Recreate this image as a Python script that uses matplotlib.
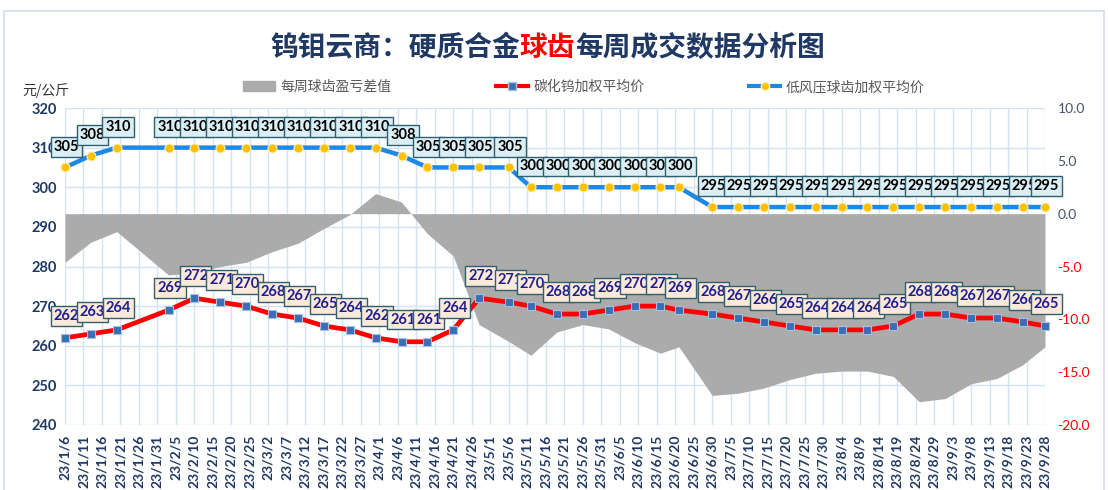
import matplotlib
matplotlib.use("Agg")
import matplotlib.pyplot as plt
import matplotlib.patches as mpatches
from matplotlib.lines import Line2D
import pandas as pd

plt.rcParams['font.family'] = ['Noto Sans CJK SC', 'DejaVu Sans']

# weekly data points
dates = ["2023-01-06", "2023-01-13", "2023-01-20", "2023-02-03", "2023-02-10", "2023-02-17",
         "2023-02-24", "2023-03-03", "2023-03-10", "2023-03-17", "2023-03-24", "2023-03-31",
         "2023-04-07", "2023-04-14", "2023-04-21", "2023-04-28", "2023-05-06", "2023-05-12",
         "2023-05-19", "2023-05-26", "2023-06-02", "2023-06-09", "2023-06-16", "2023-06-21",
         "2023-06-30", "2023-07-07", "2023-07-14", "2023-07-21", "2023-07-28", "2023-08-04",
         "2023-08-11", "2023-08-18", "2023-08-25", "2023-09-01", "2023-09-08", "2023-09-15",
         "2023-09-22", "2023-09-28"]

# 碳化钨加权平均价
wc_price = [262, 263, 264, 269, 272, 271, 270, 268, 267, 265, 264, 262,
            261, 261, 264, 272, 271, 270, 268, 268, 269, 270, 270, 269,
            268, 267, 266, 265, 264, 264, 264, 265, 268, 268, 267, 267,
            266, 265]

# 低风压球齿加权平均价
ball_price = [305, 308, 310, 310, 310, 310, 310, 310, 310, 310, 310, 310,
              308, 305, 305, 305, 305, 300, 300, 300, 300, 300, 300, 300,
              295, 295, 295, 295, 295, 295, 295, 295, 295, 295, 295, 295,
              295, 295]

# 每周球齿盈亏差值 (right axis)
diff = [-4.6, -2.7, -1.7, -5.8, -5.6, -5.0, -4.6, -3.6, -2.8, -1.4, -0.1, 1.9,
        1.1, -1.9, -4.0, -10.5, -12.1, -13.4, -11.2, -10.5, -10.9, -12.2, -13.2, -12.6,
        -17.2, -17.0, -16.5, -15.7, -15.1, -14.9, -14.9, -15.4, -17.8, -17.5, -16.1, -15.6,
        -14.3, -12.6]

left_ticks = list(range(240, 321, 10))
right_ticks = [-20, -15, -10, -5, 0, 5, 10]

NAVY = "#1F3864"
x = pd.to_datetime(dates)
xticks = pd.date_range("2023-01-06", "2023-09-28", freq="5D")

W, H = 1108, 490
fig = plt.figure(figsize=(W / 100, H / 100), dpi=100)
fig.patch.set_facecolor("white")

# outer frame
fig.add_artist(mpatches.Rectangle((4 / W, -0.02), 1 - 8 / W, 1.02 - 11 / H, transform=fig.transFigure,
                                  fc="none", ec="#D6DDEA", lw=1.2))

ax = fig.add_axes([65 / W, 1 - 425 / H, (1045 - 65) / W, (425 - 108) / H])
ax.set_xlim(x[0], pd.Timestamp("2023-09-28"))
ax.set_ylim(240, 320)
ax.set_yticks(left_ticks)
ax.set_xticks(xticks)
ax.set_xticklabels([f"{d.year % 100}/{d.month}/{d.day}" for d in xticks])
ax.grid(True, color="#D5E2F2", lw=1)
ax.tick_params(length=0)
ax.tick_params(axis="y", pad=6, labelsize=10.5, labelcolor=NAVY, labelfontfamily="Lato")
ax.tick_params(axis="x", pad=7, labelsize=10, labelcolor=NAVY, labelrotation=90, labelfontfamily="Lato")
for lbl in ax.get_yticklabels() + ax.get_xticklabels():
    lbl.set_fontweight("bold")
for s in ax.spines.values():
    s.set_visible(False)

# gray area on the right axis
ax2 = ax.twinx()
ax2.fill_between(x, 0, diff, color="#ABABAB", lw=0)
ax2.set_ylim(-20, 10)
ax2.set_yticks(right_ticks)
ax2.set_yticklabels([f"{v:.1f}" for v in right_ticks])
ax2.tick_params(length=0, pad=9, labelsize=10, labelfontfamily="Lato")
for lbl, v in zip(ax2.get_yticklabels(), right_ticks):
    lbl.set_color("#FF0000" if v < 0 else "#44546A")
for s in ax2.spines.values():
    s.set_visible(False)

# price lines on top
ax3 = ax.twinx()
ax3.set_ylim(240, 320)
ax3.set_yticks([])
for s in ax3.spines.values():
    s.set_visible(False)

ax3.plot(x, ball_price, color="#1E88E5", lw=3.2, marker="o", ms=6.5, mfc="#FFC000", mec="#FFF0C0",
         mew=0.8, solid_joinstyle="round", clip_on=False, zorder=3)
ax3.plot(x, wc_price, color="#FF0000", lw=3.4, marker="s", ms=6, mfc="#3C6EB4", mec="#A8C0E0",
         mew=0.8, solid_joinstyle="round", clip_on=False, zorder=3)

for xi, v in zip(x, ball_price):
    ax3.annotate(str(v), (xi, v), xytext=(1, 15), textcoords="offset points", ha="center", va="center",
                 fontsize=10.5, fontweight="bold", family="Lato", color="black", zorder=6,
                 annotation_clip=False,
                 bbox=dict(boxstyle="square,pad=0.2", fc="#DAEEF3", ec="#2F6070", lw=1))
for xi, v in zip(x, wc_price):
    ax3.annotate(str(v), (xi, v), xytext=(1, 16), textcoords="offset points", ha="center", va="center",
                 fontsize=10.5, fontweight="bold", family="Lato", color="#1F1F8F", zorder=6,
                 annotation_clip=False,
                 bbox=dict(boxstyle="square,pad=0.2", fc="#FCE9DA", ec="#2F6070", lw=1))

# title with the red part
t1 = fig.text(270 / W, 1 - 48 / H, "钨钼云商：硬质合金", fontsize=20, fontweight="bold",
              color=NAVY, ha="left", va="center")
t2 = ax3.annotate("球齿", xy=(1, 0), xycoords=t1, ha="left", va="bottom", fontsize=20,
                  fontweight="bold", color="#FF0000", annotation_clip=False)
ax3.annotate("每周成交数据分析图", xy=(1, 0), xycoords=t2, ha="left", va="bottom", fontsize=20,
             fontweight="bold", color=NAVY, annotation_clip=False)

fig.text(22 / W, 1 - 91 / H, "元/公斤", fontsize=10, color="#333333", ha="left", va="center")

handles = [
    mpatches.Patch(color="#ABABAB"),
    Line2D([], [], color="#FF0000", lw=3, marker="s", ms=6, mfc="#3C6EB4", mec="#A8C0E0"),
    Line2D([], [], color="#1E88E5", lw=3, marker="o", ms=6, mfc="#FFC000", mec="#FFF0C0"),
]
labels = ["每周球齿盈亏差值", "碳化钨加权平均价", "低风压球齿加权平均价"]
fig.legend(handles, labels, loc="center", bbox_to_anchor=(584 / W, 1 - 87 / H), ncol=3, frameon=False,
           fontsize=10, handlelength=2.3, handletextpad=0.4, columnspacing=7.5, labelcolor="#595959")

fig.savefig("out.png", dpi=100)
